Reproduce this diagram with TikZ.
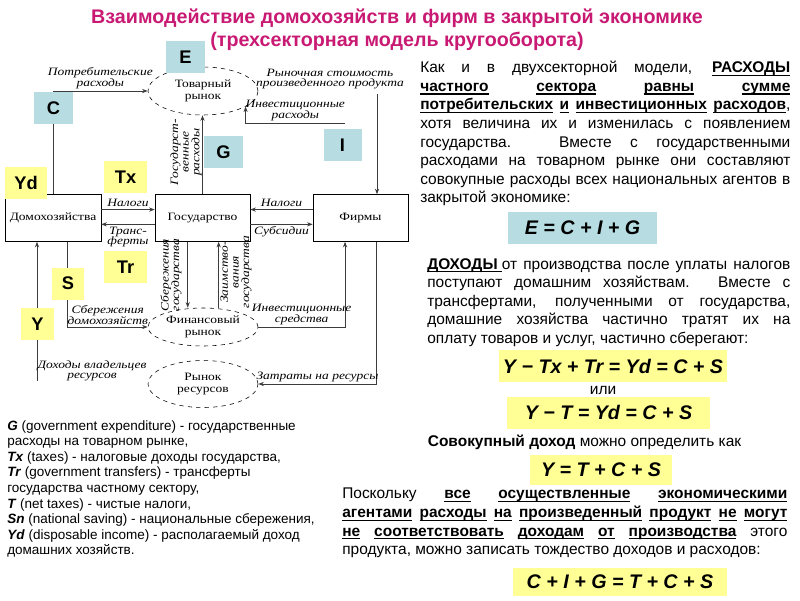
\documentclass[tikz,border=0pt]{standalone}
\usepackage{fontspec}
\setmainfont{Liberation Sans}
\newfontfamily\diagfont[FakeStretch=1.2]{Liberation Serif}
\usetikzlibrary{positioning,calc,arrows.meta,shapes.geometric}
\definecolor{TitlePink}{RGB}{200,25,115}
\definecolor{TagBlue}{RGB}{183,221,226}
\definecolor{TagYellow}{RGB}{255,255,150}
\definecolor{LineGray}{RGB}{60,60,60}
% underline one word at a fixed depth
\newcommand\ulword[1]{\setbox0\hbox{#1}\rlap{\rule[-2.3pt]{\wd0}{0.8pt}}\box0\relax}

\begin{document}
\begin{tikzpicture}[
    x=0.025cm, y=-0.025cm,
    >={Stealth[length=4pt,width=3pt]},
    sector/.style={
        draw,
        fill=white,
        minimum width=2.375cm,
        minimum height=1.175cm,
        font=\diagfont\fontsize{8}{8}\selectfont
    },
    market/.style={
        draw,
        dashed,
        ellipse,
        fill=white,
        inner sep=0pt,
        align=center,
        minimum width=2.75cm,
        font=\diagfont\fontsize{8}{8.5}\selectfont
    },
    flow/.style={
        ->,
        draw=LineGray,
        line width=0.6pt
    },
    flowlab/.style={
        font=\diagfont\itshape\fontsize{8}{7.5}\selectfont,
        align=center,
        inner sep=1.5pt
    },
    tag/.style={
        font=\bfseries\fontsize{13}{13}\selectfont,
        minimum width=0.95cm,
        minimum height=0.8cm,
        inner sep=1pt
    },
    bluetag/.style={tag, fill=TagBlue},
    yellowtag/.style={tag, fill=TagYellow},
    formula/.style={
        font=\bfseries\itshape\fontsize{14}{14}\selectfont,
        minimum height=0.8cm,
        inner sep=3pt
    },
    para/.style={
        anchor=north west,
        inner sep=0pt,
        align=justify,
        font=\fontsize{11}{13.2}\selectfont
    }
]
\useasboundingbox (0,0) rectangle (800,600);

% title
\node[font=\bfseries\fontsize{14}{16.3}\selectfont, text=TitlePink, align=center] (title) at (397,30)
{Взаимодействие домохозяйств и фирм в закрытой экономике\\(трехсекторная модель кругооборота)};

% circular flow
\node[market, minimum height=1.2cm] (goods) at (203,91) {Товарный\\рынок};
\node[sector] (house) at (53,218) {Домохозяйства};
\node[sector] (gov) at (202.5,218) {Государство};
\node[sector] (firms) at (360.5,218) {Фирмы};
\node[market, minimum height=0.95cm] (finance) at (203,327) {Финансовый\\рынок};
\node[market, minimum height=1.175cm] (resources) at (203,384) {Рынок\\ресурсов};

\draw[flow] (house.north) |- (goods.west)
    node[flowlab, above, pos=0.75] (conslab) {Потребительские\\расходы};

\coordinate (valtop) at (377,94);
\node[flowlab] (vallab) at (330,79) {Рыночная стоимость\\произведенного продукта};
\draw[flow] (valtop) -- (valtop |- firms.north);

\coordinate (invtop) at (345,123);
\draw[flow] (invtop) -| (goods.-20)
    node[flowlab, above, pos=0.25] (invlab) {Инвестиционные\\расходы};

\draw[flow] (gov.north) -- (gov.north |- goods.south);
\node[flowlab, rotate=90] (govlab) at (186,152) {Государст-\\венные\\расходы};

\draw[flow] ([yshift=6pt]house.east) -- ([yshift=6pt]gov.west)
    node[flowlab, midway, above] (taxlab) {Налоги};
\draw[flow] ([yshift=-4.5pt]gov.west) -- ([yshift=-4.5pt]house.east)
    node[flowlab, midway, below] (trlab) {Транс-\\ферты};
\draw[flow] ([yshift=6pt]firms.west) -- ([yshift=6pt]gov.east)
    node[flowlab, midway, above] (ftaxlab) {Налоги};
\draw[flow] ([yshift=-4.5pt]gov.east) -- ([yshift=-4.5pt]firms.west)
    node[flowlab, midway, below] (sublab) {Субсидии};

\draw[flow] ([xshift=-10.5pt]gov.south) -- ([xshift=-10.5pt]gov.south |- finance.north);
\node[flowlab, rotate=90] (gsavlab) at (171,275) {Сбережения\\государства};
\draw[flow] ([xshift=11.5pt]gov.south |- finance.north) -- ([xshift=11.5pt]gov.south);
\node[flowlab, rotate=90] (borlab) at (236,272) {Заимство-\\вания\\государства};

\draw[flow] ([xshift=10.5pt]house.south) |- (finance.west)
    node[flowlab, above, pos=0.75] (hsavlab) {Сбережения\\домохозяйств};
\draw[flow] (finance.east) -| ([xshift=-11pt]firms.south)
    node[flowlab, above, pos=0.25] (fundlab) {Инвестиционные\\средства};
\draw[flow] ([xshift=11.5pt]firms.south) |- (resources.east)
    node[flowlab, above, pos=0.75] (costlab) {Затраты на ресурсы};

\coordinate (incbot) at (37,381);
\draw[flow] (incbot) -- (incbot |- house.south);
\node[flowlab] (inclab) at (92,371) {Доходы владельцев\\ресурсов};

% letter tags
\node[bluetag] (tagE) at (185.5,57) {E};
\node[bluetag] (tagC) at (53.5,108) {C};
\node[bluetag] (tagG) at (223.5,152) {G};
\node[bluetag] (tagI) at (342.5,145) {I};
\node[yellowtag, minimum width=1.05cm] (tagYd) at (26,182.5) {Yd};
\node[yellowtag, minimum width=1.05cm] (tagTx) at (125.5,177) {Tx};
\node[yellowtag, minimum width=1.05cm] (tagTr) at (125.5,267) {Tr};
\node[yellowtag, minimum width=0.82cm] (tagS) at (68,283.5) {S};
\node[yellowtag, minimum width=0.82cm] (tagY) at (37.5,324) {Y};

% legend
\node[anchor=north west, inner sep=0pt, align=left, font=\fontsize{9.6}{11.1}\selectfont] (legend) at (7,420)
{\textbf{\textit{G}} (government expenditure) - государственные\\
расходы на товарном рынке,\\
\textbf{\textit{Tx}} (taxes) - налоговые доходы государства,\\
\textbf{\textit{Tr}} (government transfers) - трансферты\\
государства частному сектору,\\
\textbf{\textit{T}} (net taxes) - чистые налоги,\\
\textbf{\textit{Sn}} (national saving) - национальные сбережения,\\
\textbf{\textit{Yd}} (disposable income) - располагаемый доход\\
домашних хозяйств.};

% right-hand text
\node[para, text width=9.25cm] (para1) at (420,61)
{Как и в двухсекторной модели, \textbf{\ulword{РАСХОДЫ}}\linebreak
\textbf{\ulword{частного} \ulword{сектора} \ulword{равны} \ulword{сумме}}\linebreak
\textbf{\ulword{потребительских} \ulword{и} \ulword{инвестиционных} \ulword{расходов}},\linebreak
хотя величина их и изменилась с появлением\linebreak
государства. Вместе с государственными\linebreak
расходами на товарном рынке они составляют\linebreak
совокупные расходы всех национальных агентов в\linebreak
закрытой экономике:};

\node[formula, fill=TagBlue, minimum width=3.725cm] (eqE) at (582.5,228) {E = C + I + G};

\node[para, text width=9.075cm] (para2) at (427,258)
{\textbf{\ulword{ДОХОДЫ }}от производства после уплаты налогов\linebreak
поступают домашним хозяйствам. Вместе с\linebreak
трансфертами, полученными от государства,\linebreak
домашние хозяйства частично тратят их на\linebreak
оплату товаров и услуг, частично сберегают:};

\node[formula, fill=TagYellow, minimum width=5.45cm] (eqYd) at (613,366) {Y − Tx + Tr = Yd = C + S};
\node[font=\fontsize{11}{13}\selectfont] (orword) at (603,390) {или};
\node[formula, fill=TagYellow, minimum width=5.075cm] (eqT) at (608.5,412.5) {Y − T = Yd = C + S};

\node[font=\fontsize{11}{13}\selectfont] (incdef) at (584.5,442) {\textbf{Совокупный доход} можно определить как};
\node[formula, fill=TagYellow, minimum width=3.55cm, minimum height=0.75cm] (eqY) at (601,470) {Y = T + C + S};

\node[para, text width=11.125cm] (para3) at (342,488)
{Поскольку \textbf{\ulword{все} \ulword{осуществленные} \ulword{экономическими}}\linebreak
\textbf{\ulword{агентами} \ulword{расходы} \ulword{на} \ulword{произведенный} \ulword{продукт} \ulword{не} \ulword{могут}}\linebreak
\textbf{\ulword{не} \ulword{соответствовать} \ulword{доходам} \ulword{от} \ulword{производства}} этого\linebreak
продукта, можно записать тождество доходов и расходов:};

\node[formula, fill=TagYellow, minimum width=5.35cm, minimum height=0.7cm] (eqId) at (620,581.5) {C + I + G = T + C + S};

\end{tikzpicture}
\end{document}
